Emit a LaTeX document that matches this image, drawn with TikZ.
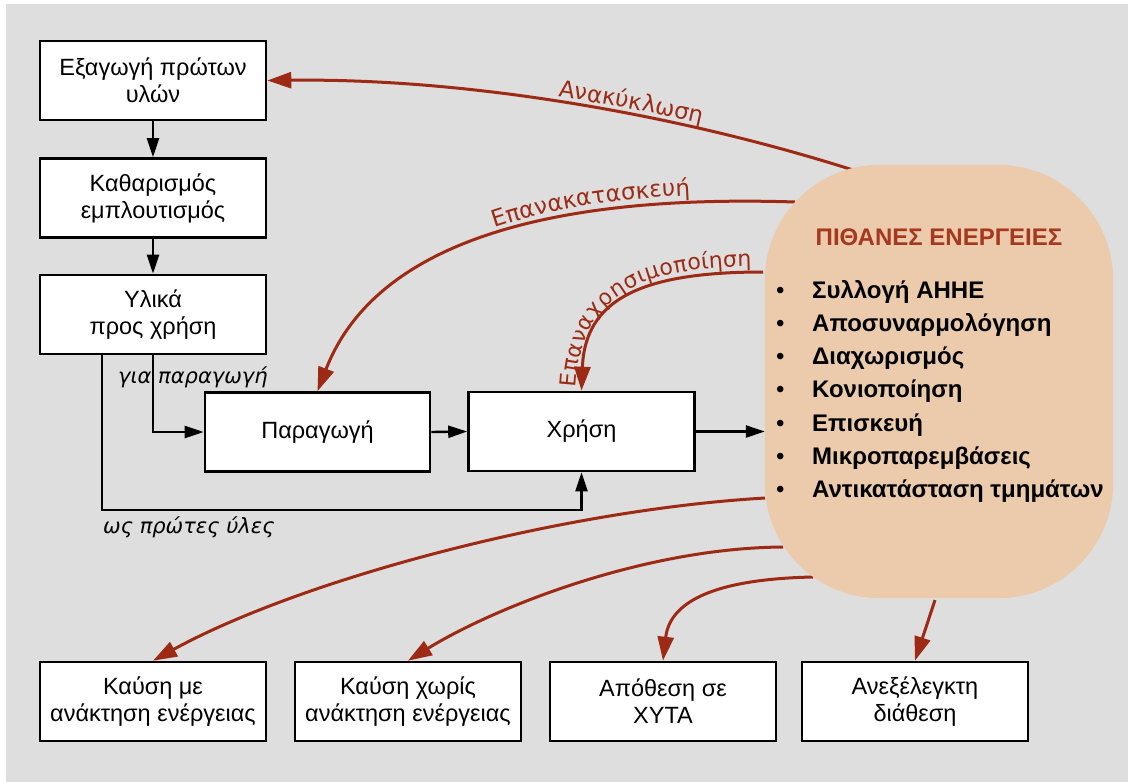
\documentclass[tikz,border=0pt]{standalone}
\usepackage{fontspec}
\setmainfont{Liberation Sans}
\newfontfamily\labfont{DejaVu Sans}
\usetikzlibrary{arrows.meta,decorations.text}
\definecolor{bg}{HTML}{DEDEDE}
\definecolor{rust}{HTML}{9C2A14}
\definecolor{peach}{HTML}{EBCBAB}
\definecolor{titlered}{HTML}{A5381E}
\begin{document}
\begin{tikzpicture}[x=1pt,y=-1pt,
  box/.style={draw=black, line width=2.6pt, fill=white, minimum width=226pt,
    minimum height=79pt, align=center, inner sep=0pt,
    font=\fontsize{23.5}{27}\selectfont},
  flow/.style={line width=2.4pt, -{Triangle[length=19pt,width=12pt]}},
  back/.style={draw=rust, line width=3pt, -{Triangle[length=24pt,width=16pt]}},
  lab/.style={font=\labfont\itshape\fontsize{21}{24}\selectfont, inner sep=0pt, anchor=base west},
  entry/.style={anchor=base west, inner sep=0pt, font=\bfseries\fontsize{24}{28}\selectfont}]

% canvas
\useasboundingbox (0,0) rectangle (1128,782);
\fill[bg] (6,4) rectangle (1128,782);

% process chain
\node[box] (b1) at (153,80.5) {Εξαγωγή πρώτων\\υλών};
\node[box] (b2) at (153,198) {Καθαρισμός\\εμπλουτισμός};
\node[box] (b3) at (153,314.5) {Υλικά\\προς χρήση};
\node[box, minimum width=225pt] (prod) at (317.5,432) {Παραγωγή};
\node[box] (use) at (581.5,431.5) {Χρήση};

% end-of-life options
\node[box] (kA) at (153,701.5) {Καύση με\\ανάκτηση ενέργειας};
\node[box] (kB) at (408,701.5) {Καύση χωρίς\\ανάκτηση ενέργειας};
\node[box] (kC) at (663,701.5) {Απόθεση σε\\ΧΥΤΑ};
\node[box] (kD) at (915,701.5) {Ανεξέλεγκτη\\διάθεση};

% actions blob (outline reference only, filled after the arrows)
\node[inner sep=0pt, minimum width=348pt, minimum height=433pt] (act) at (939,381.5) {};

% start points on the blob outline
\coordinate (r1) at (853,170);
\coordinate (r2) at (795,202);
\coordinate (r3) at (763,272);
\coordinate (r4) at (765,498);
\coordinate (r5) at (783,547);
\coordinate (r6) at (813,577);
\coordinate (r7) at (935,600);
\coordinate (low) at (0,510);

% black flow arrows
\draw[flow] (b1) -- (b2);
\draw[flow] (b2) -- (b3);
\draw[flow] (b3.south) |- (prod.west);
\draw[flow] ([xshift=-51pt]b3.south) |- (low -| use.south) -- (use.south);
\draw[flow] (prod.east) -- (use.west);
\draw[flow] (use.east) -- (use.east -| act.west);

% red return / disposal arrows
\draw[back] (r1) .. controls (680,115) and (470,78) .. (b1.east);
\draw[back] (r2) .. controls (580,195) and (380,230) .. (prod.north);
\draw[back] (r3) .. controls (640,272) and (585,300) .. (use.north);
\draw[back] (r4) .. controls (560,510) and (300,580) .. (kA.north);
\draw[back] (r5) .. controls (640,548) and (490,610) .. (kB.north);
\draw[back] (r6) .. controls (718,579) and (670,600) .. (kC.north);
\draw[back] (r7) -- (kD.north);

% blob drawn on top so the arrows start at its outline
\fill[peach, rounded corners=115pt] (act.north west) rectangle (act.south east);

% labels along the red arrows
\path[decorate, decoration={text along path, raise=5pt,
  text align={left indent=291pt},
  text={|\labfont\fontsize{23}{26}\selectfont\color{rust}|Ανακύκλωση}}]
  (b1.east) .. controls (470,78) and (680,115) .. (r1);
\path[decorate, decoration={text along path, raise=7pt,
  text align={left indent=246pt},
  text={|\labfont\fontsize{23}{26}\selectfont\color{rust}|Επανακατασκευή}}]
  (prod.north) .. controls (380,230) and (580,195) .. (r2);
\path[decorate, decoration={text along path, raise=6pt,
  text align={left indent=3pt},
  text={|\labfont\fontsize{22}{25}\selectfont\color{rust}|Επαναχρησιμοποίηση}}]
  (use.north) .. controls (585,300) and (640,272) .. (r3);

% italic flow labels
\node[lab] (lprod) at (118,383) {για παραγωγή};
\node[lab] (lraw) at (103,533) {ως πρώτες ύλες};

% blob contents
\node[anchor=base, inner sep=0pt, text=titlered, font=\bfseries\fontsize{24}{28}\selectfont]
  (title) at (939,245) {ΠΙΘΑΝΕΣ ΕΝΕΡΓΕΙΕΣ};
\foreach \t [count=\i] in {Συλλογή ΑΗΗΕ, Αποσυναρμολόγηση, Διαχωρισμός, Κονιοποίηση,
  Επισκευή, Μικροπαρεμβάσεις, Αντικατάσταση τμημάτων}
  \node[entry] (item\i) at (776,{298+33.3*(\i-1)}) {\makebox[36pt][l]{\mdseries\textbullet}\t};
\end{tikzpicture}
\end{document}
